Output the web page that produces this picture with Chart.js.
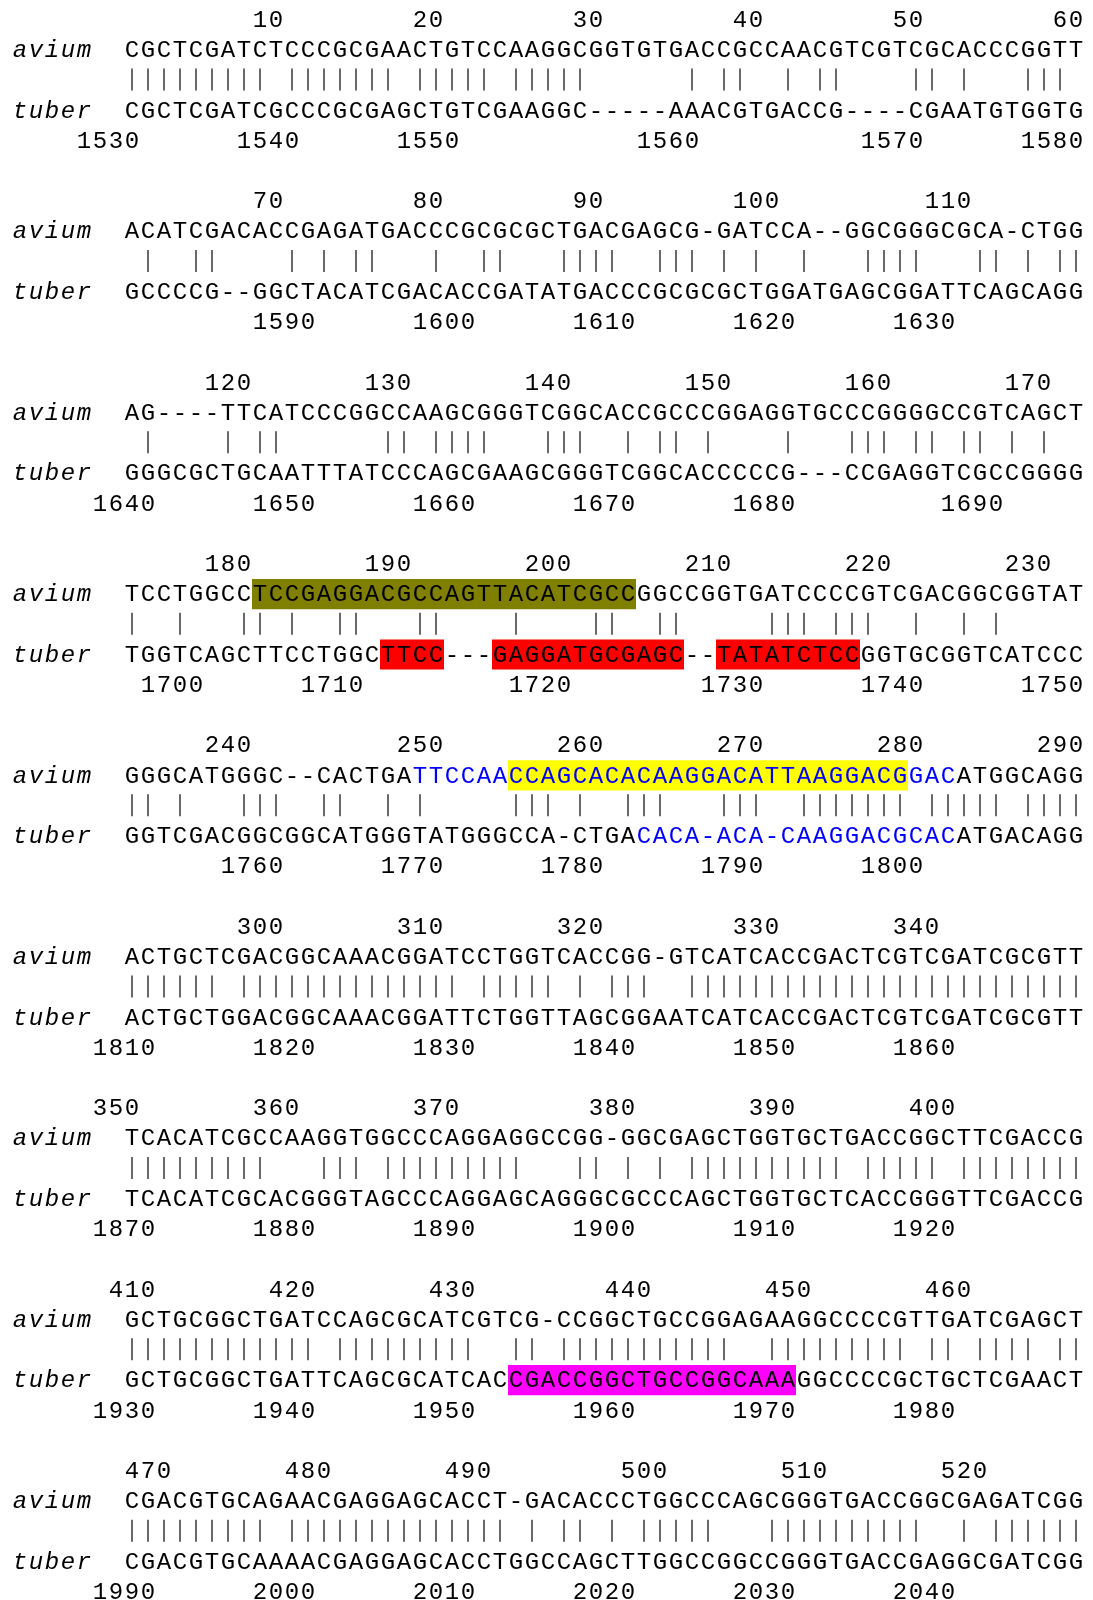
<!DOCTYPE html>
<html>
<head>
<meta charset="utf-8">
<script src="https://cdn.jsdelivr.net/npm/chart.js@4.4.1/dist/chart.umd.min.js"></script>
<style>
  html, body { margin: 0; padding: 0; background: #fff; }
  canvas { display: block; }
</style>
</head>
<body>
<canvas id="align" width="1093" height="1600"></canvas>
<script>
// one string per block of 60 alignment columns
var aviumSeq = [
  "CGCTCGATCTCCCGCGAACTGTCCAAGGCGGTGTGACCGCCAACGTCGTCGCACCCGGTT",
  "ACATCGACACCGAGATGACCCGCGCGCTGACGAGCG-GATCCA--GGCGGGCGCA-CTGG",
  "AG----TTCATCCCGGCCAAGCGGGTCGGCACCGCCCGGAGGTGCCCGGGGCCGTCAGCT",
  "TCCTGGCCTCCGAGGACGCCAGTTACATCGCCGGCCGGTGATCCCCGTCGACGGCGGTAT",
  "GGGCATGGGC--CACTGATTCCAACCAGCACACAAGGACATTAAGGACGGACATGGCAGG",
  "ACTGCTCGACGGCAAACGGATCCTGGTCACCGG-GTCATCACCGACTCGTCGATCGCGTT",
  "TCACATCGCCAAGGTGGCCCAGGAGGCCGG-GGCGAGCTGGTGCTGACCGGCTTCGACCG",
  "GCTGCGGCTGATCCAGCGCATCGTCG-CCGGCTGCCGGAGAAGGCCCCGTTGATCGAGCT",
  "CGACGTGCAGAACGAGGAGCACCT-GACACCCTGGCCCAGCGGGTGACCGGCGAGATCGG"
];
var tuberSeq = [
  "CGCTCGATCGCCCGCGAGCTGTCGAAGGC-----AAACGTGACCG----CGAATGTGGTG",
  "GCCCCG--GGCTACATCGACACCGATATGACCCGCGCGCTGGATGAGCGGATTCAGCAGG",
  "GGGCGCTGCAATTTATCCCAGCGAAGCGGGTCGGCACCCCCG---CCGAGGTCGCCGGGG",
  "TGGTCAGCTTCCTGGCTTCC---GAGGATGCGAGC--TATATCTCCGGTGCGGTCATCCC",
  "GGTCGACGGCGGCATGGGTATGGGCCA-CTGACACA-ACA-CAAGGACGCACATGACAGG",
  "ACTGCTGGACGGCAAACGGATTCTGGTTAGCGGAATCATCACCGACTCGTCGATCGCGTT",
  "TCACATCGCACGGGTAGCCCAGGAGCAGGGCGCCCAGCTGGTGCTCACCGGGTTCGACCG",
  "GCTGCGGCTGATTCAGCGCATCACCGACCGGCTGCCGGCAAAGGCCCCGCTGCTCGAACT",
  "CGACGTGCAAAACGAGGAGCACCTGGCCAGCTTGGCCGGCCGGGTGACCGAGGCGATCGG"
];

// position numbers: [number, column of its last digit]
var aviumTicks = [
  [[10,9],[20,19],[30,29],[40,39],[50,49],[60,59]],
  [[70,9],[80,19],[90,29],[100,40],[110,52]],
  [[120,7],[130,17],[140,27],[150,37],[160,47],[170,57]],
  [[180,7],[190,17],[200,27],[210,37],[220,47],[230,57]],
  [[240,7],[250,19],[260,29],[270,39],[280,49],[290,59]],
  [[300,9],[310,19],[320,29],[330,40],[340,50]],
  [[350,0],[360,10],[370,20],[380,31],[390,41],[400,51]],
  [[410,1],[420,11],[430,21],[440,32],[450,42],[460,52]],
  [[470,2],[480,12],[490,22],[500,33],[510,43],[520,53]]
];
var tuberTicks = [
  [[1530,0],[1540,10],[1550,20],[1560,35],[1570,49],[1580,59]],
  [[1590,11],[1600,21],[1610,31],[1620,41],[1630,51]],
  [[1640,1],[1650,11],[1660,21],[1670,31],[1680,41],[1690,54]],
  [[1700,4],[1710,14],[1720,27],[1730,39],[1740,49],[1750,59]],
  [[1760,9],[1770,19],[1780,29],[1790,39],[1800,49]],
  [[1810,1],[1820,11],[1830,21],[1840,31],[1850,41],[1860,51]],
  [[1870,1],[1880,11],[1890,21],[1900,31],[1910,41],[1920,51]],
  [[1930,1],[1940,11],[1950,21],[1960,31],[1970,41],[1980,51]],
  [[1990,1],[2000,11],[2010,21],[2020,31],[2030,41],[2040,51]]
];

// shaded stretches: [block, row, first col, last col, kind]
var boxSpans = [
  [3, 'avium', 8, 31, 'probe'],
  [3, 'tuber', 16, 19, 'primer'],
  [3, 'tuber', 23, 34, 'primer'],
  [3, 'tuber', 37, 45, 'primer'],
  [4, 'avium', 24, 48, 'target'],
  [7, 'tuber', 24, 41, 'other']
];
// blue lettering: [block, row, first col, last col]
var blueSpans = [
  [4, 'avium', 18, 51],
  [4, 'tuber', 32, 51]
];

// layout / style
var COLS = 60;
var LINES_PER_BLOCK = 6;
var LINE_PX = 181.4 / LINES_PER_BLOCK;
var FIRST_BASELINE = 26.8;
var FONT = '"Liberation Mono", "Courier New", monospace';
var FONT_PX = 24;
var boxColors = { probe: '#808000', primer: '#ff0000', target: '#ffff00', other: '#ff00ff' };
var rowLine = { top: 0, avium: 1, match: 2, tuber: 3, bottom: 4 };

function lineOf(block, row) {
  return block * LINES_PER_BLOCK + rowLine[row];
}

var boxData = boxSpans.map(function(s) {
  return { x: [s[2], s[3] + 1], y: lineOf(s[0], s[1]) - 7.2 / LINE_PX };
});
var boxFill = boxSpans.map(function(s) { return boxColors[s[4]]; });

// a bar wherever both sequences carry the same base
var matchData = [];
aviumSeq.forEach(function(a, b) {
  var t = tuberSeq[b];
  for (var i = 0; i < COLS; i++) {
    if (a[i] !== '-' && a[i] === t[i]) {
      matchData.push({ x: i + 0.5, y: lineOf(b, 'match') - 7.7 / LINE_PX });
    }
  }
});

function isBlue(block, row, col) {
  return blueSpans.some(function(s) {
    return s[0] === block && s[1] === row && col >= s[2] && col <= s[3];
  });
}

var textPlugin = {
  id: 'alignText',
  afterDatasetsDraw: function(chart) {
    var ctx = chart.ctx;
    var xs = chart.scales.x;
    var ys = chart.scales.y;
    ctx.save();
    ctx.textAlign = 'center';
    ctx.textBaseline = 'alphabetic';

    function put(ch, col, line, color, italic) {
      ctx.font = (italic ? 'italic ' : '') + FONT_PX + 'px ' + FONT;
      ctx.fillStyle = color;
      ctx.fillText(ch, xs.getPixelForValue(col + 0.5), ys.getPixelForValue(line));
    }
    function putNumbers(ticks, line) {
      ticks.forEach(function(t) {
        var s = String(t[0]);
        for (var k = 0; k < s.length; k++) {
          put(s[k], t[1] - (s.length - 1 - k), line, '#000', false);
        }
      });
    }
    function putName(name, line) {
      for (var k = 0; k < name.length; k++) put(name[k], -7 + k, line, '#000', true);
    }

    for (var b = 0; b < aviumSeq.length; b++) {
      putNumbers(aviumTicks[b], lineOf(b, 'top'));
      putName('avium', lineOf(b, 'avium'));
      putName('tuber', lineOf(b, 'tuber'));
      for (var i = 0; i < COLS; i++) {
        put(aviumSeq[b][i], i, lineOf(b, 'avium'), isBlue(b, 'avium', i) ? '#0000ff' : '#000', false);
        put(tuberSeq[b][i], i, lineOf(b, 'tuber'), isBlue(b, 'tuber', i) ? '#0000ff' : '#000', false);
      }
      putNumbers(tuberTicks[b], lineOf(b, 'bottom'));
    }
    ctx.restore();
  }
};

var yMin = -FIRST_BASELINE / LINE_PX;
var yMax = yMin + 1600 / LINE_PX;

var chart = new Chart(document.getElementById('align'), {
  type: 'scatter',
  data: {
    datasets: [{
      type: 'bar',
      indexAxis: 'y',
      data: boxData,
      backgroundColor: boxFill,
      borderWidth: 0,
      inflateAmount: 0,
      barThickness: LINE_PX,
      order: 2
    }, {
      type: 'scatter',
      data: matchData,
      pointStyle: 'line',
      rotation: 90,
      pointRadius: 11,
      pointBorderColor: '#1a1a1a',
      pointBackgroundColor: '#1a1a1a',
      pointBorderWidth: 1.3,
      showLine: false,
      clip: false,
      order: 1
    }]
  },
  options: {
    responsive: false,
    devicePixelRatio: 1,
    animation: false,
    events: [],
    layout: { autoPadding: false, padding: { left: 124, right: 9, top: 0, bottom: 0 } },
    plugins: { legend: { display: false }, tooltip: { enabled: false } },
    scales: {
      x: { type: 'linear', min: 0, max: COLS, display: false, offset: false },
      y: { type: 'linear', min: yMin, max: yMax, reverse: true, display: false, offset: false }
    }
  },
  plugins: [textPlugin]
});
</script>
</body>
</html>
